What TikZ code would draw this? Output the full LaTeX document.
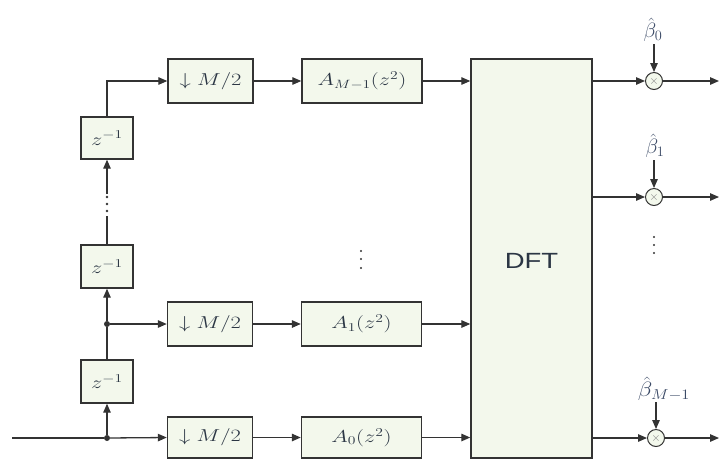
\documentclass[tikz,border=0pt]{standalone}
\usepackage{fontspec}
\usepackage{graphicx}
\setmainfont{Liberation Serif}
\newfontfamily\dftfont{Liberation Sans}
\usetikzlibrary{arrows.meta}
\definecolor{boxfill}{HTML}{F3F8EC}
\definecolor{linecol}{HTML}{333333}
\definecolor{txtcol}{HTML}{2B3644}
\definecolor{betacol}{HTML}{3B4A66}
\newcommand{\wide}[1]{\scalebox{1.3}[1]{#1}}
\tikzset{
  blk/.style={draw=linecol, line width=1.4pt, fill=boxfill, inner sep=0pt,
    text=txtcol, font=\fontsize{17.28}{20}\selectfont},
  conn/.style={draw=linecol, line width=1.3pt},
  arr/.style={conn, -{Triangle[length=9pt,width=7.5pt]}},
  mult/.style={draw=linecol, line width=1pt, fill=boxfill, circle, minimum size=17pt, inner sep=0pt, text=gray, font=\fontsize{12}{12}\selectfont},
  betalab/.style={text=betacol, font=\fontsize{20.74}{24}\selectfont, inner sep=0pt},
  jdot/.style={fill=linecol, circle, inner sep=0pt, minimum size=6pt},
  vdot/.style={fill=linecol, circle, inner sep=0pt, minimum size=2.6pt}
}
\begin{document}
\begin{tikzpicture}[x=1pt,y=-1pt]
\useasboundingbox (0,0) rectangle (719,459);
% delay boxes
\node[blk, minimum width=52pt, minimum height=42pt] (zA) at (107,138) {\wide{$z^{-1}$}};
\node[blk, minimum width=52pt, minimum height=43pt] (zB) at (107,266.5) {\wide{$z^{-1}$}};
\node[blk, minimum width=52pt, minimum height=43pt] (zC) at (107,381.5) {\wide{$z^{-1}$}};
% decimators
\node[blk, minimum width=85pt, minimum height=44pt] (dA) at (210.5,81) {\wide{$\downarrow M/2$}};
\node[blk, minimum width=85pt, minimum height=44pt] (dB) at (210,324) {\wide{$\downarrow M/2$}};
\node[blk, minimum width=85pt, minimum height=41pt] (dC) at (210,437.5) {\wide{$\downarrow M/2$}};
% polyphase filters
\node[blk, minimum width=120pt, minimum height=44pt] (aA) at (362,81) {\wide{$A_{M-1}(z^{2})$}};
\node[blk, minimum width=120pt, minimum height=44pt] (aB) at (361.5,324) {\wide{$A_{1}(z^{2})$}};
\node[blk, minimum width=120pt, minimum height=41pt] (aC) at (361.5,437.5) {\wide{$A_{0}(z^{2})$}};
% DFT
\node[blk, minimum width=121pt, minimum height=399pt] (dft) at (531.5,258.5) {};
\node[text=txtcol, font=\dftfont\fontsize{22}{24}\selectfont, inner sep=0pt] (dftlab) at (531.5,261) {\scalebox{1.25}[1]{DFT}};
% multipliers
\node[mult] (mA) at (654,81) {$\times$};
\node[mult] (mB) at (654,197) {$\times$};
\node[mult] (mC) at (656,438) {$\times$};
\node[betalab, anchor=south] (bA) at (653,42) {$\hat{\beta}_{0}$};
\node[betalab, anchor=south] (bB) at (655,158) {$\hat{\beta}_{1}$};
\node[betalab, anchor=south] (bC) at (664,401) {\scalebox{1.15}[1]{$\hat{\beta}_{M-1}$}};
% output ends
\coordinate (oA) at (719,81);
\coordinate (oB) at (719,197);
\coordinate (oC) at (719,438);
\coordinate (sA) at (654,44);
\coordinate (sB) at (654,160);
\coordinate (sC) at (656,402);
% input and junctions
\coordinate (in) at (12,438);
\node[jdot] (j0) at (107,438) {};
\node[jdot] (j1) at (107,324) {};
\coordinate (tA) at (107,81);
\coordinate (gTop) at (107,194);
\coordinate (gBot) at (107,216);
% delay chain
\draw[conn] (in) -- (j0);
\draw[arr] (j0) -- (dC.west);
\draw[arr] (j0) -- (zC.south);
\draw[conn] (zC.north) -- (j1);
\draw[arr] (j1) -- (dB.west);
\draw[arr] (j1) -- (zB.south);
\draw[conn] (zB.north) -- (gBot);
\draw[arr] (gTop) -- (zA.south);
\node[vdot] (v1) at (107,197) {};
\node[vdot] (v2) at (107,204) {};
\node[vdot] (v3) at (107,211) {};
\draw[arr] (zA.north) -- (tA) -- (dA.west);
% decimator -> filter
\draw[arr] (dA) -- (aA);
\draw[arr] (dB) -- (aB);
\draw[arr] (dC) -- (aC);
% filter -> DFT
\draw[arr] (aA.east) -- (dft.west |- aA.east);
\draw[arr] (aB.east) -- (dft.west |- aB.east);
\draw[arr] (aC.east) -- (dft.west |- aC.east);
% DFT -> multipliers
\draw[arr] (dft.east |- mA) -- (mA);
\draw[arr] (dft.east |- mB) -- (mB);
\draw[arr] (dft.east |- mC) -- (mC);
\draw[arr] (mA) -- (oA);
\draw[arr] (mB) -- (oB);
\draw[arr] (mC) -- (oC);
\draw[arr] (sA) -- (mA);
\draw[arr] (sB) -- (mB);
\draw[arr] (sC) -- (mC);
% ellipsis dots
\node[vdot, minimum size=2.4pt] (e1) at (361,251) {};
\node[vdot, minimum size=2.4pt] (e2) at (361,259) {};
\node[vdot, minimum size=2.4pt] (e3) at (361,268) {};
\node[vdot, minimum size=2.4pt] (f1) at (654,237) {};
\node[vdot, minimum size=2.4pt] (f2) at (654,245) {};
\node[vdot, minimum size=2.4pt] (f3) at (654,253) {};
\end{tikzpicture}
\end{document}
